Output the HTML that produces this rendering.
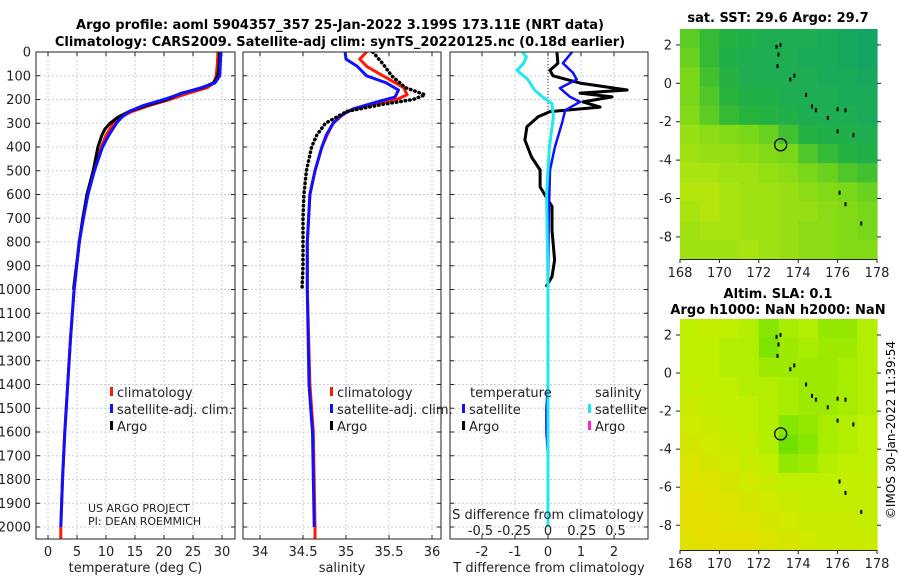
<!DOCTYPE html>
<html><head><meta charset="utf-8"><style>
body{margin:0;background:#fff;}
svg{display:block;font-family:"DejaVu Sans","Liberation Sans",sans-serif;}
</style></head><body>
<svg id="fig" width="900" height="580" viewBox="0 0 900 580" xmlns="http://www.w3.org/2000/svg">
<g id="titles">
<text x="340" y="29" text-anchor="middle" font-size="13" font-weight="bold">Argo profile: aoml 5904357_357 25-Jan-2022 3.199S 173.11E (NRT data)</text>
<text x="340" y="46" text-anchor="middle" font-size="13" font-weight="bold">Climatology: CARS2009. Satellite-adj clim: synTS_20220125.nc (0.18d earlier)</text>
<text x="778" y="22" text-anchor="middle" font-size="13" font-weight="bold">sat. SST: 29.6 Argo: 29.7</text>
<text x="778" y="298" text-anchor="middle" font-size="13" font-weight="bold">Altim. SLA: 0.1</text>
<text x="778" y="314" text-anchor="middle" font-size="13" font-weight="bold">Argo h1000: NaN h2000: NaN</text>
<text transform="translate(895,430) rotate(-90)" text-anchor="middle" font-size="12">©IMOS 30-Jan-2022 11:39:54</text>
</g>
</svg>
<script>
// ---------- data ----------
const tempDepthClim=[0,50,100,130,150,175,200,225,250,275,300,350,400,500,600,700,800,1000,1200,1400,1600,1800,2000,2050];
const tempClim=[29.3,29.2,29.0,28.6,27.5,24,21,17.5,14.5,12.5,11.3,10,9.2,7.8,6.8,6.0,5.4,4.5,3.9,3.4,2.9,2.5,2.2,2.2];
const tempDepthSat=[0,50,100,130,150,175,200,225,250,275,300,350,400,500,600,700,800,1000,1200,1400,1600,1800,2000];
const tempSat=[29.8,29.7,29.6,28.8,26.5,23,20,16.5,14,12.7,11.8,10.5,9.4,8,6.9,6.1,5.4,4.5,3.9,3.4,2.9,2.5,2.2];
const tempDepthArgo=[0,50,100,130,150,175,200,225,250,275,300,325,350,400,500,600,700,800,1000];
const tempArgo=[29.6,29.5,29.3,28.5,26.7,22.8,20.5,17,14,12,10.7,9.8,9.3,8.6,7.8,6.7,6.0,5.4,4.4];

const salDepthClim=[0,30,60,100,150,180,200,225,250,300,350,400,500,600,800,1000,1400,1500,1600,2000,2050];
const salClim=[35.24,35.16,35.24,35.43,35.67,35.71,35.59,35.24,35.01,34.85,34.78,34.72,34.64,34.58,34.55,34.55,34.58,34.6,34.62,34.64,34.64];
const salDepthSat=[0,30,60,100,130,160,190,210,240,270,300,350,400,500,600,800,1000,1400,1500,1600,2000];
const salSat=[34.99,35.0,35.13,35.24,35.47,35.61,35.57,35.36,35.08,34.93,34.85,34.77,34.72,34.64,34.58,34.55,34.55,34.57,34.59,34.61,34.63];
const salDepthArgo=[0,50,100,150,180,200,220,250,300,350,400,500,600,700,800,900,990];
const salArgo=[35.31,35.43,35.53,35.69,35.92,35.78,35.43,35.01,34.76,34.66,34.6,34.54,34.51,34.5,34.5,34.5,34.49];

const dTArgoDepth=[0,47,77,100,131,160,173,189,210,232,251,273,315,371,442,497,568,623,650,750,876,946,989];
const dTArgo=[0.27,0.3,0.06,0.15,0.97,2.4,0.97,1.94,1.06,1.58,0.06,-0.3,-0.64,-0.7,-0.5,-0.24,-0.24,0,0.12,0.12,0.2,0.12,-0.06];
const dTSatDepth=[0,47,88,116,152,189,210,245,301,400,497,700,1000,1400,1500,1600,1700,2000];
const dTSat=[0.73,0.45,0.76,0.87,0.36,0.67,0.97,0.52,0.42,0.21,0.06,0.02,0,0,-0.05,-0.05,0,0];
const dSSatDepth=[0,20,47,77,116,160,189,217,273,400,600,1000,1500,2000];
const dSSat=[-0.19,-0.16,-0.18,-0.23,-0.15,-0.1,-0.04,0.03,0.04,0.01,-0.01,0,0,0];

const depthTicks=[0,100,200,300,400,500,600,700,800,900,1000,1100,1200,1300,1400,1500,1600,1700,1800,1900,2000];
const tempTicks=[0,5,10,15,20,25,30];
const salTicks=[34,34.5,35,35.5,36];
const salTickLabels=["34","34.5","35","35.5","36"];
const dTTicks=[-2,-1,0,1,2];
const dSTicks=[-0.5,-0.25,0,0.25,0.5];
const dSTickLabels=["-0.5","-0.25","0","0.25","0.5"];

const lonTicks=[168,170,172,174,176,178];
const sstLatTicks=[2,0,-2,-4,-6,-8];
const slaLatTicks=[2,0,-2,-4,-6,-8];
const sstGrid=[
[.5,.35,.25,.2,.15,.15,.15,.1,.05,0],
[.55,.35,.2,.15,.15,.15,.1,.1,.05,0],
[.6,.4,.25,.15,.15,.15,.15,.1,.1,.05],
[.6,.45,.3,.2,.2,.15,.15,.15,.1,.1],
[.65,.5,.35,.3,.25,.2,.15,.15,.15,.1],
[.75,.7,.65,.6,.55,.4,.25,.2,.2,.15],
[.8,.75,.75,.7,.65,.6,.45,.35,.25,.2],
[.85,.85,.8,.8,.75,.7,.6,.55,.45,.4],
[.9,.9,.85,.8,.8,.75,.7,.65,.6,.55],
[.85,.9,.85,.8,.8,.75,.75,.7,.65,.6],
[.8,.85,.85,.8,.8,.75,.7,.7,.65,.6],
[.8,.8,.8,.85,.8,.75,.7,.7,.65,.65]];
const slaGrid=[
[.5,.55,.5,.45,.25,.4,.45,.3,.3,.45],
[.5,.5,.45,.45,.2,.35,.4,.35,.35,.45],
[.5,.5,.45,.45,.35,.35,.35,.35,.4,.45],
[.55,.5,.5,.45,.45,.4,.35,.35,.4,.45],
[.6,.55,.5,.5,.45,.4,.35,.35,.4,.45],
[.65,.6,.55,.5,.45,.25,.3,.4,.45,.5],
[.7,.65,.6,.55,.45,.15,.25,.4,.45,.5],
[.75,.7,.65,.6,.5,.3,.35,.45,.5,.5],
[.8,.75,.7,.65,.6,.5,.5,.5,.55,.55],
[.85,.8,.75,.7,.65,.6,.55,.55,.55,.55],
[.85,.85,.8,.75,.7,.65,.6,.6,.6,.55],
[.8,.85,.85,.85,.75,.7,.65,.6,.6,.6]];
const islandLon=[172.9,173.0,173.1,172.95,173.6,173.8,174.4,174.7,174.9,175.5,176.0,176.4,176.0,176.8,176.1,176.4,177.2];
const islandLat=[1.9,1.5,2.0,0.9,0.2,0.4,-0.6,-1.2,-1.4,-1.8,-1.35,-1.4,-2.5,-2.7,-5.7,-6.3,-7.3];
const argoLon=173.11, argoLat=-3.199;

// ---------- helpers ----------
const NS="http://www.w3.org/2000/svg";
const svg=document.getElementById('fig');
function el(tag,attrs,parent){const e=document.createElementNS(NS,tag);for(const k in attrs)e.setAttribute(k,attrs[k]);(parent||svg).appendChild(e);return e;}
function txt(x,y,s,size,anchor,parent){const t=el('text',{x:x,y:y,'font-size':size||12,'text-anchor':anchor||'middle',fill:'#222'},parent);t.textContent=s;return t;}

const top0=52, bot=539;
const yD=d=>top0+d*0.2375;
const panels=[
 {name:'temperature-panel',x0:36,x1:235,fx:v=>48+v*5.8,ticks:tempTicks,labels:tempTicks.map(String),xlabel:'temperature (deg C)',ylabels:true},
 {name:'salinity-panel',x0:243,x1:441,fx:v=>260+(v-34)*86,ticks:salTicks,labels:salTickLabels,xlabel:'salinity',ylabels:false},
 {name:'difference-panel',x0:450,x1:648,fx:v=>548+v*33,ticks:dTTicks,labels:dTTicks.map(String),xlabel:'T difference from climatology',ylabels:false}
];
const fS=v=>548+v*135;

panels.forEach((p,i)=>{
 const g=el('g',{});
 
 
 const clip=el('clipPath',{id:'clip'+i},g);
 el('rect',{x:p.x0,y:top0,width:p.x1-p.x0,height:bot-top0},clip);
 depthTicks.forEach(d=>{const l=el('line',{x1:p.x0,x2:p.x1,y1:yD(d),y2:yD(d),stroke:'#c8cde8','stroke-width':1,'stroke-dasharray':'2,2'},g);
  
  el('line',{x1:p.x0,x2:p.x0+4,y1:yD(d),y2:yD(d),stroke:'#222'},g);
  el('line',{x1:p.x1-4,x2:p.x1,y1:yD(d),y2:yD(d),stroke:'#222'},g);
  if(p.ylabels){const t=txt(31,yD(d)+4.5,String(d),13,'end',g);}
 });
 p.ticks.forEach((v,k)=>{const x=p.fx(v);
  const l=el('line',{x1:x,x2:x,y1:top0,y2:bot,stroke:'#c8cde8','stroke-width':1,'stroke-dasharray':'2,2'},g);
  
  el('line',{x1:x,x2:x,y1:top0,y2:top0+4,stroke:'#222'},g);
  el('line',{x1:x,x2:x,y1:bot-4,y2:bot,stroke:'#222'},g);
  const t=txt(x,556,p.labels[k],13,'middle',g);
 });
 const xl=txt((p.x0+p.x1)/2,572,p.xlabel,13,'middle',g);
 
 p.g=g;p.clip='url(#clip'+i+')';
});

function line(g,clip,xs,ds,fx,color,w,name,dash){
 const pts=xs.map((v,k)=>fx(v).toFixed(1)+','+yD(ds[k]).toFixed(1)).join(' ');
 const a={points:pts,fill:'none',stroke:color,'stroke-width':w,'stroke-linejoin':'round','clip-path':clip};
 if(dash){a['stroke-dasharray']=dash;a['stroke-linecap']='round';}
 const e=el('polyline',a,g);
 
 
 return e;
}
const P=panels;
line(P[0].g,P[0].clip,tempClim,tempDepthClim,P[0].fx,'#ff1a00',3,'temp-climatology-line');
line(P[0].g,P[0].clip,tempArgo,tempDepthArgo,P[0].fx,'#000',3,'temp-argo-line');
line(P[0].g,P[0].clip,tempSat,tempDepthSat,P[0].fx,'#1010ff',3,'temp-satellite-line');
line(P[1].g,P[1].clip,salClim,salDepthClim,P[1].fx,'#ff1a00',3,'sal-climatology-line');
line(P[1].g,P[1].clip,salSat,salDepthSat,P[1].fx,'#1010ff',3,'sal-satellite-line');
line(P[1].g,P[1].clip,salArgo,salDepthArgo,P[1].fx,'#000',3.5,'sal-argo-line','0.5,4');
const z=el('line',{x1:P[2].fx(0),x2:P[2].fx(0),y1:top0,y2:yD(250),stroke:'#333','stroke-width':1,'stroke-dasharray':'1,2'},P[2].g);

line(P[2].g,P[2].clip,dTArgo,dTArgoDepth,P[2].fx,'#000',3,'tdiff-argo-line');
line(P[2].g,P[2].clip,dTSat,dTSatDepth,P[2].fx,'#1010ff',2.5,'tdiff-satellite-line');
line(P[2].g,P[2].clip,dSSat,dSSatDepth,fS,'#20e8f0',3,'sdiff-satellite-line');
dSTicks.forEach((v,k)=>{const t=txt(fS(v),535,dSTickLabels[k],13,'middle',P[2].g);
 });
const st=txt(548,519,'S difference from climatology',13,'middle',P[2].g);

P.forEach(p=>{const r=el('rect',{x:p.x0,y:top0,width:p.x1-p.x0,height:bot-top0,fill:'none',stroke:'#222','stroke-width':1},p.g);
 });

function legendEntry(g,x,y,color,label,name){
 const lg=el('g',{},g);
 
 
 el('rect',{x:x,y:y-10,width:3,height:9,fill:color},lg);
 txt(x+7,y,label,13,'start',lg);
}
[[P[0].g,110],[P[1].g,330]].forEach(([g,x],i)=>{
 legendEntry(g,x,397,'#ff1a00','climatology','legend-climatology');
 legendEntry(g,x,414,'#1010ff','satellite-adj. clim.','legend-satellite-adj');
 legendEntry(g,x,431,'#000','Argo','legend-argo');
});
const lt=txt(470,397,'temperature',13,'start',P[2].g);
const ls=txt(595,397,'salinity',13,'start',P[2].g);
legendEntry(P[2].g,462,414,'#1010ff','satellite','legend-t-satellite');
legendEntry(P[2].g,462,431,'#000','Argo','legend-t-argo');
legendEntry(P[2].g,588,414,'#20e8f0','satellite','legend-s-satellite');
legendEntry(P[2].g,588,431,'#ff20d0','Argo','legend-s-argo');
const pr=txt(88,512,'US ARGO PROJECT',11,'start',P[0].g);
const pi=txt(88,525,'PI: DEAN ROEMMICH',11,'start',P[0].g);

// ---------- maps ----------
function lerp(a,b,t){return a.map((v,i)=>Math.round(v+(b[i]-v)*t));}
function cmap(stops,v){for(let i=0;i<stops.length-1;i++){if(v<=stops[i+1][0]){const t=(v-stops[i][0])/(stops[i+1][0]-stops[i][0]);const c=lerp(stops[i][1],stops[i+1][1],t);return 'rgb('+c.join(',')+')';}}return 'rgb('+stops[stops.length-1][1].join(',')+')';}
const sstStops=[[0,[20,165,100]],[0.3,[40,180,60]],[0.6,[120,215,25]],[1,[200,235,10]]];
const slaStops=[[0,[80,220,0]],[0.5,[190,240,0]],[1,[245,215,0]]];
function drawMap(name,x0,x1,y0,y1,latTop,latBot,grid,stops,latTicks){
 const g=el('g',{});
 
 
 const fx=lon=>680+(lon-168)*19.7;
 const fy=lat=>y0+(latTop-lat)/(latTop-latBot)*(y1-y0);
 const nr=grid.length,nc=grid[0].length;
 const cw=(x1-x0)/nc,ch=(y1-y0)/nr;
 grid.forEach((row,r)=>row.forEach((v,c)=>{
  const cell=el('rect',{x:(x0+c*cw).toFixed(2),y:(y0+r*ch).toFixed(2),width:(cw+0.6).toFixed(2),height:(ch+0.6).toFixed(2),fill:cmap(stops,v)},g);
  
  
 }));
 islandLon.forEach((lon,k)=>{const d=el('rect',{x:fx(lon)-1,y:fy(islandLat[k])-2,width:2,height:4,fill:'#000'},g);
  });
 const c=el('circle',{cx:fx(argoLon),cy:fy(argoLat),r:6,fill:'none',stroke:'#000','stroke-width':1.3},g);
 
 lonTicks.forEach(l=>{const x=fx(l);el('line',{x1:x,x2:x,y1:y1,y2:y1+4,stroke:'#222'},g);
  const t=txt(x,y1+18,String(l),13,'middle',g);});
 latTicks.forEach(l=>{const y=fy(l);el('line',{x1:x0-4,x2:x0,y1:y,y2:y,stroke:'#222'},g);el('line',{x1:x1,x2:x1+4,y1:y,y2:y,stroke:'#222'},g);
  const t=txt(x0-8,y+4.5,String(l),13,'end',g);});
 el('line',{x1:x0,x2:x1,y1:y1+0.5,y2:y1+0.5,stroke:'#222'},g);
}
drawMap('sst-map',680,877,29,259,2.83,-9.15,sstGrid,sstStops,sstLatTicks);
drawMap('sla-map',680,877,319,550,2.84,-9.3,slaGrid,slaStops,slaLatTicks);
</script>
</body></html>
